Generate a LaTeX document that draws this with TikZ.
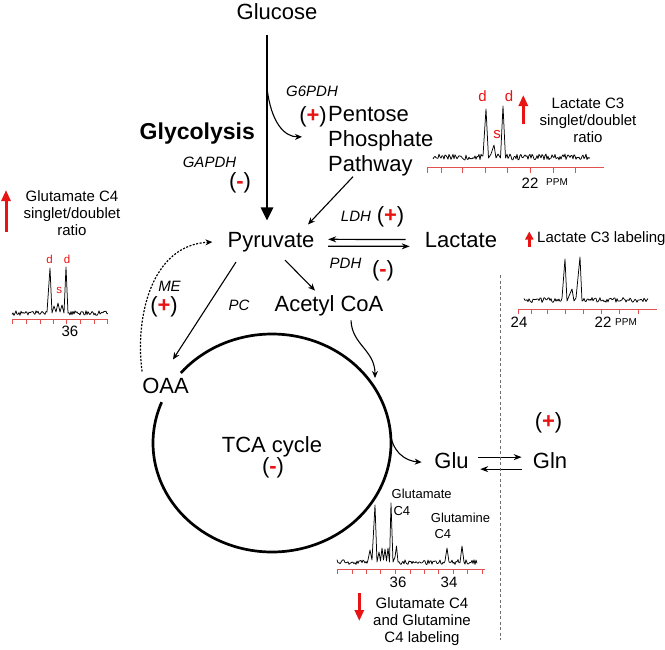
\documentclass[tikz,border=0pt]{standalone}
\usepackage{fontspec}
\setmainfont{Liberation Sans}
\usetikzlibrary{arrows.meta}
\definecolor{axred}{RGB}{226,80,80}
\definecolor{txtred}{RGB}{232,20,20}
\definecolor{dashgray}{RGB}{110,110,110}
\newcommand{\RedPlus}{(\textcolor{txtred}{\textbf{+}})}
\newcommand{\RedMinus}{(\textcolor{txtred}{\textbf{-}})}
\begin{document}
\begin{tikzpicture}[x=1pt,y=-1pt,
  big/.style={font=\fontsize{22}{25}\selectfont, inner sep=0pt},
  med/.style={font=\fontsize{15}{17}\selectfont, inner sep=0pt},
  enz/.style={font=\fontsize{15}{17}\selectfont\itshape, inner sep=0pt},
  par/.style={font=\fontsize{22}{25}\selectfont, inner sep=0pt},
  sm/.style={font=\fontsize{13}{15}\selectfont, inner sep=0pt},
  pk/.style={font=\fontsize{15}{17}\selectfont, text=txtred, inner sep=0pt},
  pks/.style={font=\fontsize{11.5}{13}\selectfont, text=txtred, inner sep=0pt},
  num/.style={font=\fontsize{15}{17}\selectfont, inner sep=0pt},
  ppmlbl/.style={font=\fontsize{10}{12}\selectfont, inner sep=0pt},
  arr/.style={line width=1.1pt, -{Stealth[length=7pt,width=6pt]}},
  eqarr/.style={line width=1.2pt, -{Stealth[length=8pt,width=6pt]}},
  mainarr/.style={line width=2.6pt, -{Triangle[length=13pt,width=12pt]}},
  redarr/.style={draw=txtred, line width=3pt, -{Triangle[length=11pt,width=9pt]}},
  spec/.style={line width=0.75pt, line join=round},
  axline/.style={draw=axred, line width=1pt},
]
\fill[white] (0,0) rectangle (665,649);
\useasboundingbox (0,0) rectangle (665,649);
\pgfmathsetseed{4242}

% ---------- main nodes ----------
\node[big, anchor=base] (glc) at (277,19.5) {Glucose};
\node[big, anchor=base] (pyr) at (271,247.3) {Pyruvate};
\node[big, anchor=base] (lac) at (461,247) {Lactate};
\node[big, anchor=base] (acoa) at (329,311.7) {Acetyl CoA};
\node[big, anchor=base] (oaa) at (165.5,393) {OAA};
\node[big, anchor=base] (tca) at (272,452) {TCA cycle};
\node[big, anchor=base] (glu) at (451.5,468.3) {Glu};
\node[big, anchor=base] (gln) at (550,468.3) {Gln};
\node[font=\fontsize{23}{26}\selectfont\bfseries, inner sep=0pt, anchor=base east] (glyc) at (255,139.5) {Glycolysis};
\node[big, anchor=north west, align=left] (ppp) at (328,106.2) {Pentose\\Phosphate\\Pathway};

% ---------- regulation marks ----------
\node[par] (m1) at (313,117) {\RedPlus};
\node[par] (m2) at (240,182.5) {\RedMinus};
\node[par] (m3) at (390.5,216.5) {\RedPlus};
\node[par] (m4) at (383,270.5) {\RedMinus};
\node[par] (m5) at (164,306.5) {\RedPlus};
\node[par] (m6) at (273,467.5) {\RedMinus};
\node[par] (m7) at (548.5,423) {\RedPlus};

% ---------- enzymes ----------
\node[enz, anchor=base] (g6pdh) at (312,96) {G6PDH};
\node[enz, anchor=base] (gapdh) at (209.5,167) {GAPDH};
\node[enz, anchor=base] (ldh) at (356,221.7) {LDH};
\node[enz, anchor=base] (pdh) at (345.5,268.3) {PDH};
\node[enz, anchor=base] (me) at (169.5,291.7) {ME};
\node[enz, anchor=base] (pc) at (239,310) {PC};

% ---------- TCA circle ----------
\draw[line width=2.7pt] plot[domain=158:500, samples=140, smooth] ({272+119*cos(\x)},{443-109*sin(\x)});
\coordinate (tcaAc) at (375,378);
\coordinate (tcaGlu) at (389.5,430);
\coordinate (g6s) at (267,88);

% ---------- connectors ----------
\draw[mainarr] ([shift={(-10,15.5)}]glc.south) -- ([shift={(-4,-11.5)}]pyr.north);
\draw[arr] (g6s) .. controls (271,122) and (284,137) .. ([shift={(-26,-4.4)}]ppp.west);
\draw[arr] ([shift={(25,0.4)}]ppp.south west) -- ([shift={(37,-7.5)}]pyr.north);
\draw[eqarr] ([shift={(-19,0)}]lac.west) -- ([shift={(13.6,-2.7)}]pyr.east);
\draw[eqarr] ([shift={(13.6,4.3)}]pyr.east) -- ([shift={(-15,6.8)}]lac.west);
\draw[arr] ([shift={(14,8)}]pyr.south) -- ([shift={(-14,-5)}]acoa.north);
\draw[arr] ([shift={(-35,10)}]pyr.south) -- ([shift={(7.5,-18)}]oaa.north);
\draw[line width=1.2pt, dash pattern=on 2pt off 1.5pt, -{Stealth[length=7pt,width=6pt]}]
  ([shift={(0,-6)}]oaa.north west) .. controls (135,320) and (150,245) .. ([shift={(-15,0)}]pyr.west);
\draw[arr] ([shift={(22,4)}]acoa.south) .. controls (352,345) and (375,350) .. (tcaAc);
\draw[arr] (tcaGlu) .. controls (392,452) and (405,461) .. ([shift={(-12.5,1.7)}]glu.west);
\draw[eqarr] ([shift={(9.4,-3.3)}]glu.east) -- ([shift={(-11,-3.3)}]gln.west);
\draw[eqarr] ([shift={(-11,8.7)}]gln.west) -- ([shift={(11.4,8.7)}]glu.east);

% ---------- dashed separator ----------
\coordinate (dv1) at (500,275);
\coordinate (dv2) at (500,640);
\draw[dashgray, line width=0.7pt, dash pattern=on 3pt off 2.5pt] (dv1) -- (dv2);

% ---------- top-right spectrum (Lactate C3 s/d) ----------
\draw[spec] plot[domain=433:483, samples=51] (\x,{157+3*rand}) -- (486,109) -- (488.5,158) -- (491,154) -- (494,145) -- (496,158) -- (498,154) -- (500.5,158) -- (503,106) -- (505.5,158) -- plot[domain=507:590, samples=84] (\x,{157+3*rand});
\draw[axline] (427,167) -- (604,167);
\foreach \t in {427.3,441.7,462.7,485,507.7,530,553.3,575} \draw[axline] (\t,167) -- (\t,172.5);
\node[num, anchor=base] (tr22) at (530,188) {22};
\node[ppmlbl, anchor=base] (trppm) at (557,185) {PPM};
\node[pk, anchor=base] (trd1) at (482.5,101.7) {d};
\node[pk, anchor=base] (trs) at (497,138) {s};
\node[pk, anchor=base] (trd2) at (509,101.7) {d};
\coordinate (tra1) at (523.3,124);
\coordinate (tra2) at (523.3,95);
\draw[redarr] (tra1) -- (tra2);
\node[med, anchor=north, align=center] (trtxt) at (588,97.4) {Lactate C3\\singlet/doublet\\ratio};

% ---------- left spectrum (Glutamate C4 s/d) ----------
\draw[spec] plot[domain=12:47, samples=36] (\x,{313+2.4*rand}) -- (50,268) -- (52,313) -- (54,306) -- (56,312) -- (58,303) -- (60,312) -- (62,305) -- (64,313) -- (66,267) -- (68,313) -- plot[domain=69:108, samples=40] (\x,{313+2.4*rand});
\draw[axline] (12,319) -- (108,319);
\foreach \t in {12.7,26.7,40,53,66.7,80,94,107.7} \draw[axline] (\t,319) -- (\t,323.5);
\node[num, anchor=base] (l36) at (70,336) {36};
\node[pks, anchor=base] (ld1) at (49.5,263.3) {d};
\node[pks, anchor=base] (ls) at (59.3,293.3) {s};
\node[pks, anchor=base] (ld2) at (67,263.3) {d};
\coordinate (la1) at (6,232);
\coordinate (la2) at (6,190);
\draw[redarr] (la1) -- (la2);
\node[med, anchor=north, align=center] (ltxt) at (72,190.8) {Glutamate C4\\singlet/doublet\\ratio};

% ---------- right spectrum (Lactate C3 labeling) ----------
\draw[spec] plot[domain=524:562, samples=39] (\x,{300+2.5*rand}) -- (565,259) -- (567,301) -- (569,296) -- (572,289) -- (574,301) -- (576,298) -- (580,257) -- (582,301) -- plot[domain=583:648, samples=66] (\x,{300+2.5*rand});
\draw[axline] (518,309) -- (657,309);
\foreach \t in {518,531,547,565,583,601,619,638} \draw[axline] (\t,309) -- (\t,314);
\node[num, anchor=base] (r24) at (519,327.5) {24};
\node[num, anchor=base] (r22) at (603,327.5) {22};
\node[ppmlbl, anchor=base] (rppm) at (626,325) {PPM};
\coordinate (ra1) at (529.3,247);
\coordinate (ra2) at (529.3,231.5);
\draw[draw=txtred, line width=3pt, -{Triangle[length=8pt,width=8pt]}] (ra1) -- (ra2);
\node[med, anchor=base west] (rtxt) at (537,242) {Lactate C3 labeling};

% ---------- bottom spectrum (Glu/Gln C4) ----------
\draw[spec] plot[domain=337:368, samples=32] (\x,{562+2.5*rand}) -- (370,550) -- (372,560) -- (375,505) -- (377,562) -- (379,552) -- (380.5,561) -- (382,548) -- (383.5,560) -- (385,549) -- (386.5,561) -- (388,548) -- (389.5,562) -- (391,503) -- (393,562) -- (395,557) -- (396.5,546) -- (398,562) -- plot[domain=399:445, samples=47] (\x,{562+2.5*rand}) -- (447,548) -- (449,562) -- plot[domain=450:460, samples=11] (\x,{562+2.5*rand}) -- (462,546) -- (464,562) -- plot[domain=465:477, samples=13] (\x,{562+2.5*rand});
\draw[axline] (337,569) -- (485,569);
\foreach \t in {337,352,366,380,395,410,424,438,453,467,482} \draw[axline] (\t,569) -- (\t,573.5);
\node[num, anchor=base] (b36) at (398,587) {36};
\node[num, anchor=base] (b34) at (449,587) {34};
\node[sm, anchor=base west] (bglu1) at (391.5,498.3) {Glutamate};
\node[sm, anchor=base west] (bglu2) at (393.3,515) {C4};
\node[sm, anchor=base west] (bgln1) at (430.7,522.3) {Glutamine};
\node[sm, anchor=base west] (bgln2) at (434.3,538.3) {C4};
\coordinate (ba1) at (359.3,593);
\coordinate (ba2) at (359.3,621);
\draw[redarr] (ba1) -- (ba2);
\node[med, anchor=north, align=center] (btxt) at (422,597.4) {Glutamate C4\\and Glutamine\\C4 labeling};
\end{tikzpicture}
\end{document}
